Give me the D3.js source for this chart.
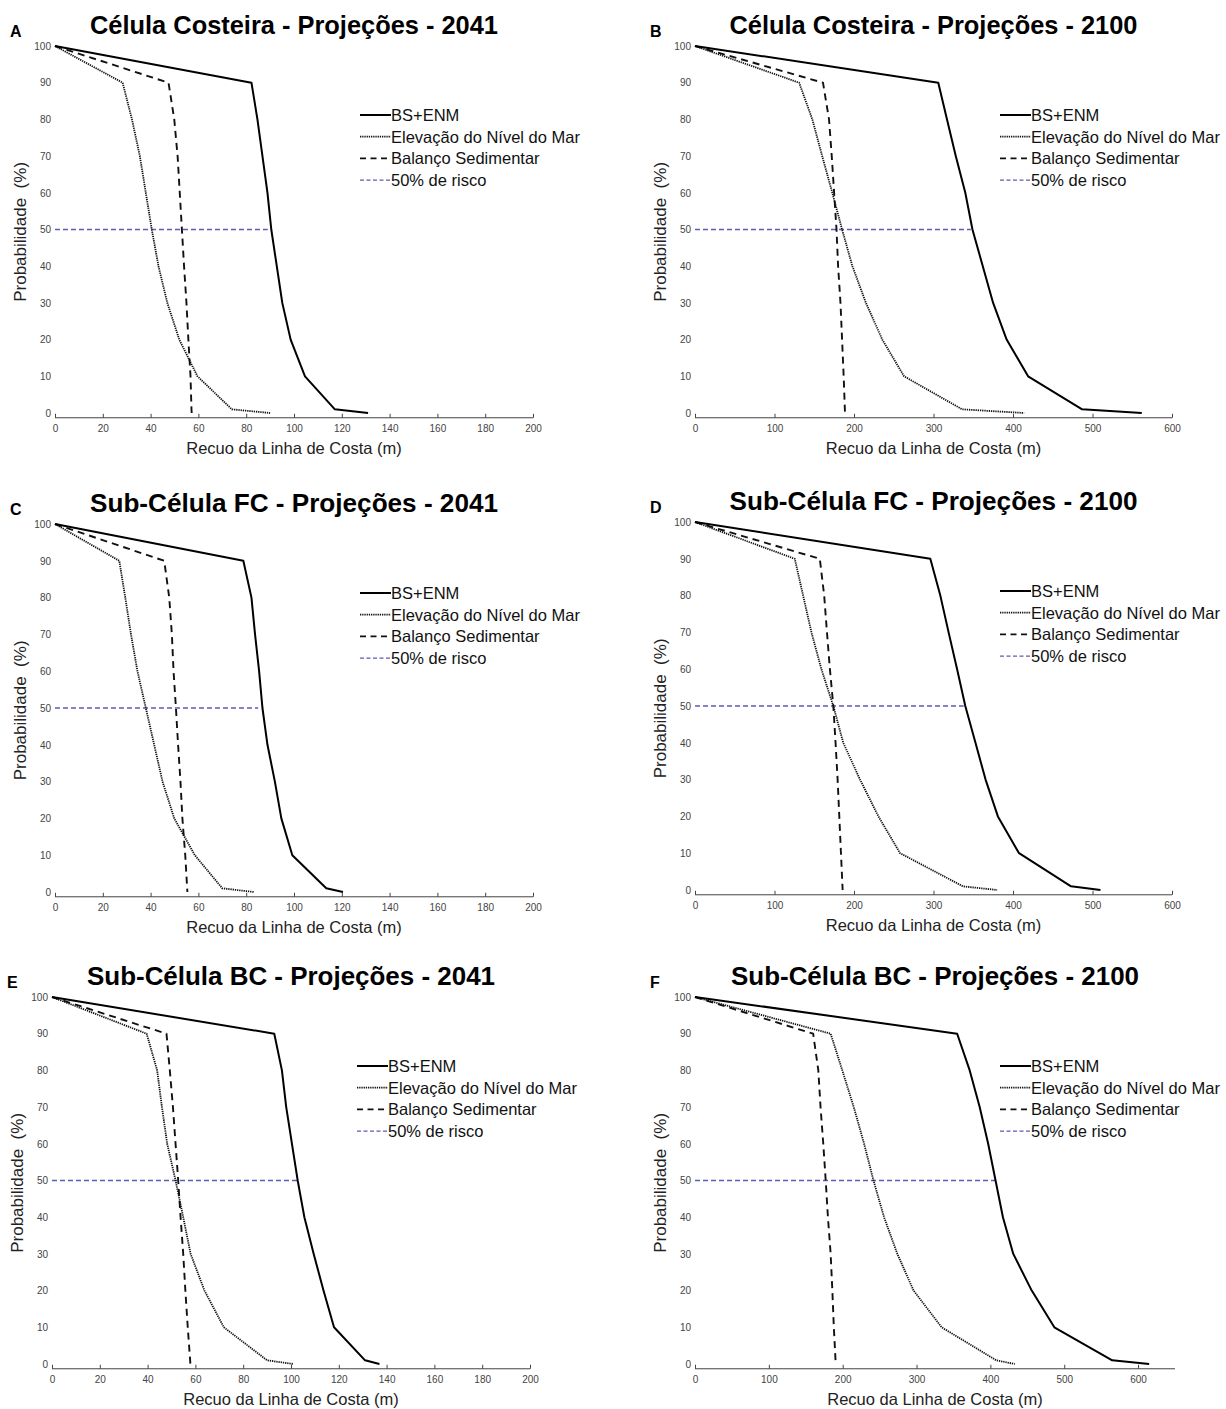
<!DOCTYPE html>
<html>
<head>
<meta charset="utf-8">
<script src="https://cdn.jsdelivr.net/npm/d3@7"></script>
<style>
  body { margin: 0; background: #fff; }
  svg { display: block; }
</style>
</head>
<body>
<svg id="chart" width="1226" height="1409"></svg>
<script>
// probability levels (%) shared by all curves
var probLevels = [100, 90, 80, 70, 60, 50, 40, 30, 20, 10, 1, 0];

// shoreline retreat (m) for each probability level, per panel
var aCombined = [0, 82.2, 84.7, 86.8, 88.9, 90.5, 92.8, 95.1, 98.6, 104.6, 117.1, 131];
var aSeaLevel = [0, 28.3, 32.2, 35.5, 38, 40.5, 43.3, 47, 52, 59.6, 74, 90];
var aSediment = [0, 47.5, 49.9, 51.3, 52.2, 53.1, 54, 55, 55.8, 56.7, 57.1, 57.2];

var bCombined = [0, 306, 317, 328, 340, 349, 362, 375, 392, 419, 487, 562];
var bSeaLevel = [0, 131, 147.6, 160, 172.7, 185, 198, 215, 235.6, 263, 336, 414];
var bSediment = [0, 161, 168.6, 172, 175, 178, 180, 183, 185, 187, 188.5, 188.7];

var cCombined = [0, 78.8, 82.2, 83.7, 85.4, 86.8, 88.9, 92, 94.7, 99.3, 113.5, 120.5];
var cSeaLevel = [0, 26.9, 29.4, 31.8, 34.5, 38, 41.5, 45, 49.9, 58.5, 70, 83.3];
var cSediment = [0, 45.7, 47.8, 48.9, 49.6, 50.6, 51.5, 52.5, 53.3, 54.5, 55.3, 55.4];

var dCombined = [0, 296, 308.6, 319, 329.7, 340, 352.8, 365.5, 381, 407.6, 473, 510];
var dSeaLevel = [0, 125.5, 136, 146.5, 159, 174, 186.5, 207.6, 230.7, 258, 337, 380];
var dSediment = [0, 157, 162.5, 166, 169.7, 174, 176.8, 179.4, 181.5, 183.6, 185.5, 185.7];

var eCombined = [0, 93, 96.2, 98, 100.4, 102.8, 105.6, 109.5, 113.6, 118, 131, 137];
var eSeaLevel = [0, 39.6, 44, 46, 48.2, 51.7, 54.9, 58, 63.8, 71.9, 90, 101];
var eSediment = [0, 47.9, 49.3, 50.6, 51.7, 52.8, 53.8, 54.9, 55.8, 56.8, 57.8, 57.9];

var fCombined = [0, 355, 372, 385.5, 397, 407, 417, 431, 456, 486.6, 565, 615];
var fSeaLevel = [0, 183.7, 199.5, 215, 229, 241.7, 256, 274, 296, 334, 408, 433];
var fSediment = [0, 160, 167, 170, 173.7, 177, 180, 183.7, 186, 188, 190.3, 190.5];

// where the 50% risk line stops (retreat, m)
var riskEnd = [89, 347, 85, 338, 102.5, 407];

var panelLetters = ["A", "B", "C", "D", "E", "F"];
var panelTitles = [
  "Célula Costeira - Projeções - 2041",
  "Célula Costeira - Projeções - 2100",
  "Sub-Célula FC - Projeções - 2041",
  "Sub-Célula FC - Projeções - 2100",
  "Sub-Célula BC - Projeções - 2041",
  "Sub-Célula BC - Projeções - 2100"
];
var xMax = [200, 600, 200, 600, 200, 650];
var xTicks = [
  d3.range(0, 201, 20), d3.range(0, 601, 100),
  d3.range(0, 201, 20), d3.range(0, 601, 100),
  d3.range(0, 201, 20), d3.range(0, 601, 100)
];
var yTicks = d3.range(0, 101, 10);
var legendLabels = ["BS+ENM", "Elevação do Nível do Mar", "Balanço Sedimentar", "50% de risco"];

var combined = [aCombined, bCombined, cCombined, dCombined, eCombined, fCombined];
var seaLevel = [aSeaLevel, bSeaLevel, cSeaLevel, dSeaLevel, eSeaLevel, fSeaLevel];
var sediment = [aSediment, bSediment, cSediment, dSediment, eSediment, fSediment];

// pixel frames of each plot: left, right, top (100%), zero line
var frames = [
  {x0: 55, x1: 533, top: 46, zero: 413},
  {x0: 695, x1: 1172, top: 46, zero: 413},
  {x0: 55, x1: 533, top: 524, zero: 892},
  {x0: 695, x1: 1172, top: 522, zero: 890},
  {x0: 52, x1: 530, top: 997, zero: 1364},
  {x0: 695, x1: 1175, top: 997, zero: 1364}
];

var styles = {
  combined: {stroke: "#000", width: 2, dash: null},
  sea: {stroke: "#111", width: 1.8, dash: "1.3,0.9"},
  sediment: {stroke: "#111", width: 1.9, dash: "7,5"},
  risk: {stroke: "#5d5db3", width: 1.3, dash: "5,3"}
};

var svg = d3.select("#chart");

function drawPanel(i) {
  var f = frames[i];
  var unit = (f.zero - f.top) / 100;
  var bottom = f.zero + unit * 1.3;

  var x = d3.scaleLinear().domain([0, xMax[i]]).range([f.x0, f.x1]);
  var y = d3.scaleLinear().domain([0, 100]).range([f.zero, f.top]);

  var g = svg.append("g");

  // x axis
  var xAxis = g.append("g")
    .attr("transform", "translate(0," + bottom + ")")
    .call(d3.axisBottom(x).tickValues(xTicks[i]).tickSizeInner(-4).tickSizeOuter(0).tickPadding(7));
  xAxis.select(".domain").attr("stroke", "#444").attr("d", "M" + f.x0 + ",0H" + f.x1);
  xAxis.selectAll(".tick line").attr("stroke", "#444");
  xAxis.selectAll("text").attr("fill", "#444").style("font-family", "Liberation Sans, Arial, sans-serif").style("font-size", "10px");

  // y axis (labels only)
  var yAxis = g.append("g")
    .attr("transform", "translate(" + f.x0 + ",0)")
    .call(d3.axisLeft(y).tickValues(yTicks).tickSize(0).tickPadding(4));
  yAxis.select(".domain").remove();
  yAxis.selectAll("text").attr("fill", "#444").style("font-family", "Liberation Sans, Arial, sans-serif").style("font-size", "10px");

  // axis titles
  g.append("text")
    .attr("x", (f.x0 + f.x1) / 2)
    .attr("y", bottom + 36)
    .attr("text-anchor", "middle")
    .style("font-family", "Liberation Sans, Arial, sans-serif")
    .style("font-size", "16.5px")
    .attr("fill", "#222")
    .text("Recuo da Linha de Costa (m)");

  g.append("text")
    .attr("transform", "translate(" + (f.x0 - 29) + "," + ((f.top + bottom) / 2) + ") rotate(-90)")
    .attr("text-anchor", "middle")
    .style("font-family", "Liberation Sans, Arial, sans-serif")
    .style("font-size", "17px")
    .style("white-space", "pre")
    .attr("fill", "#222")
    .text("Probabilidade  (%)");

  // title and panel letter
  g.append("text")
    .attr("x", (f.x0 + f.x1) / 2)
    .attr("y", f.top - 12)
    .attr("text-anchor", "middle")
    .attr("textLength", 408)
    .attr("lengthAdjust", "spacingAndGlyphs")
    .style("font-family", "Liberation Sans Narrow, Liberation Sans, Arial, sans-serif")
    .style("font-weight", "bold")
    .style("font-size", "25px")
    .text(panelTitles[i]);

  g.append("text")
    .attr("x", f.x0 - 45)
    .attr("y", f.top - 9)
    .style("font-family", "Liberation Sans, Arial, sans-serif")
    .style("font-weight", "bold")
    .style("font-size", "16px")
    .text(panelLetters[i]);

  var line = d3.line()
    .x(function(d) { return x(d[0]); })
    .y(function(d) { return y(d[1]); });

  function series(xs) { return xs.map(function(v, k) { return [v, probLevels[k]]; }); }

  function addPath(data, st) {
    g.append("path")
      .datum(data)
      .attr("fill", "none")
      .attr("stroke", st.stroke)
      .attr("stroke-width", st.width)
      .attr("stroke-dasharray", st.dash)
      .attr("stroke-linejoin", "round")
      .attr("d", line);
  }

  addPath([[0, 50], [riskEnd[i], 50]], styles.risk);
  addPath(series(sediment[i]), styles.sediment);
  addPath(series(seaLevel[i]), styles.sea);
  addPath(series(combined[i]), styles.combined);

  // legend
  var legStyles = [styles.combined, styles.sea, styles.sediment, styles.risk];
  var legDash = [null, "1.3,0.9", "6,4.5", "4,2.5"];
  var lx = f.x0 + 305;
  legendLabels.forEach(function(lbl, k) {
    var ly = f.top + 69 + k * 21.7;
    var st = legStyles[k];
    g.append("line")
      .attr("x1", lx).attr("x2", lx + 31)
      .attr("y1", ly).attr("y2", ly)
      .attr("stroke", st.stroke)
      .attr("stroke-width", st.width)
      .attr("stroke-dasharray", legDash[k]);
    g.append("text")
      .attr("x", lx + 31)
      .attr("y", ly + 6)
      .style("font-family", "Liberation Sans, Arial, sans-serif")
      .style("font-size", "16.5px")
      .attr("fill", "#111")
      .text(lbl);
  });
}

for (var i = 0; i < 6; i++) drawPanel(i);
</script>
</body>
</html>
